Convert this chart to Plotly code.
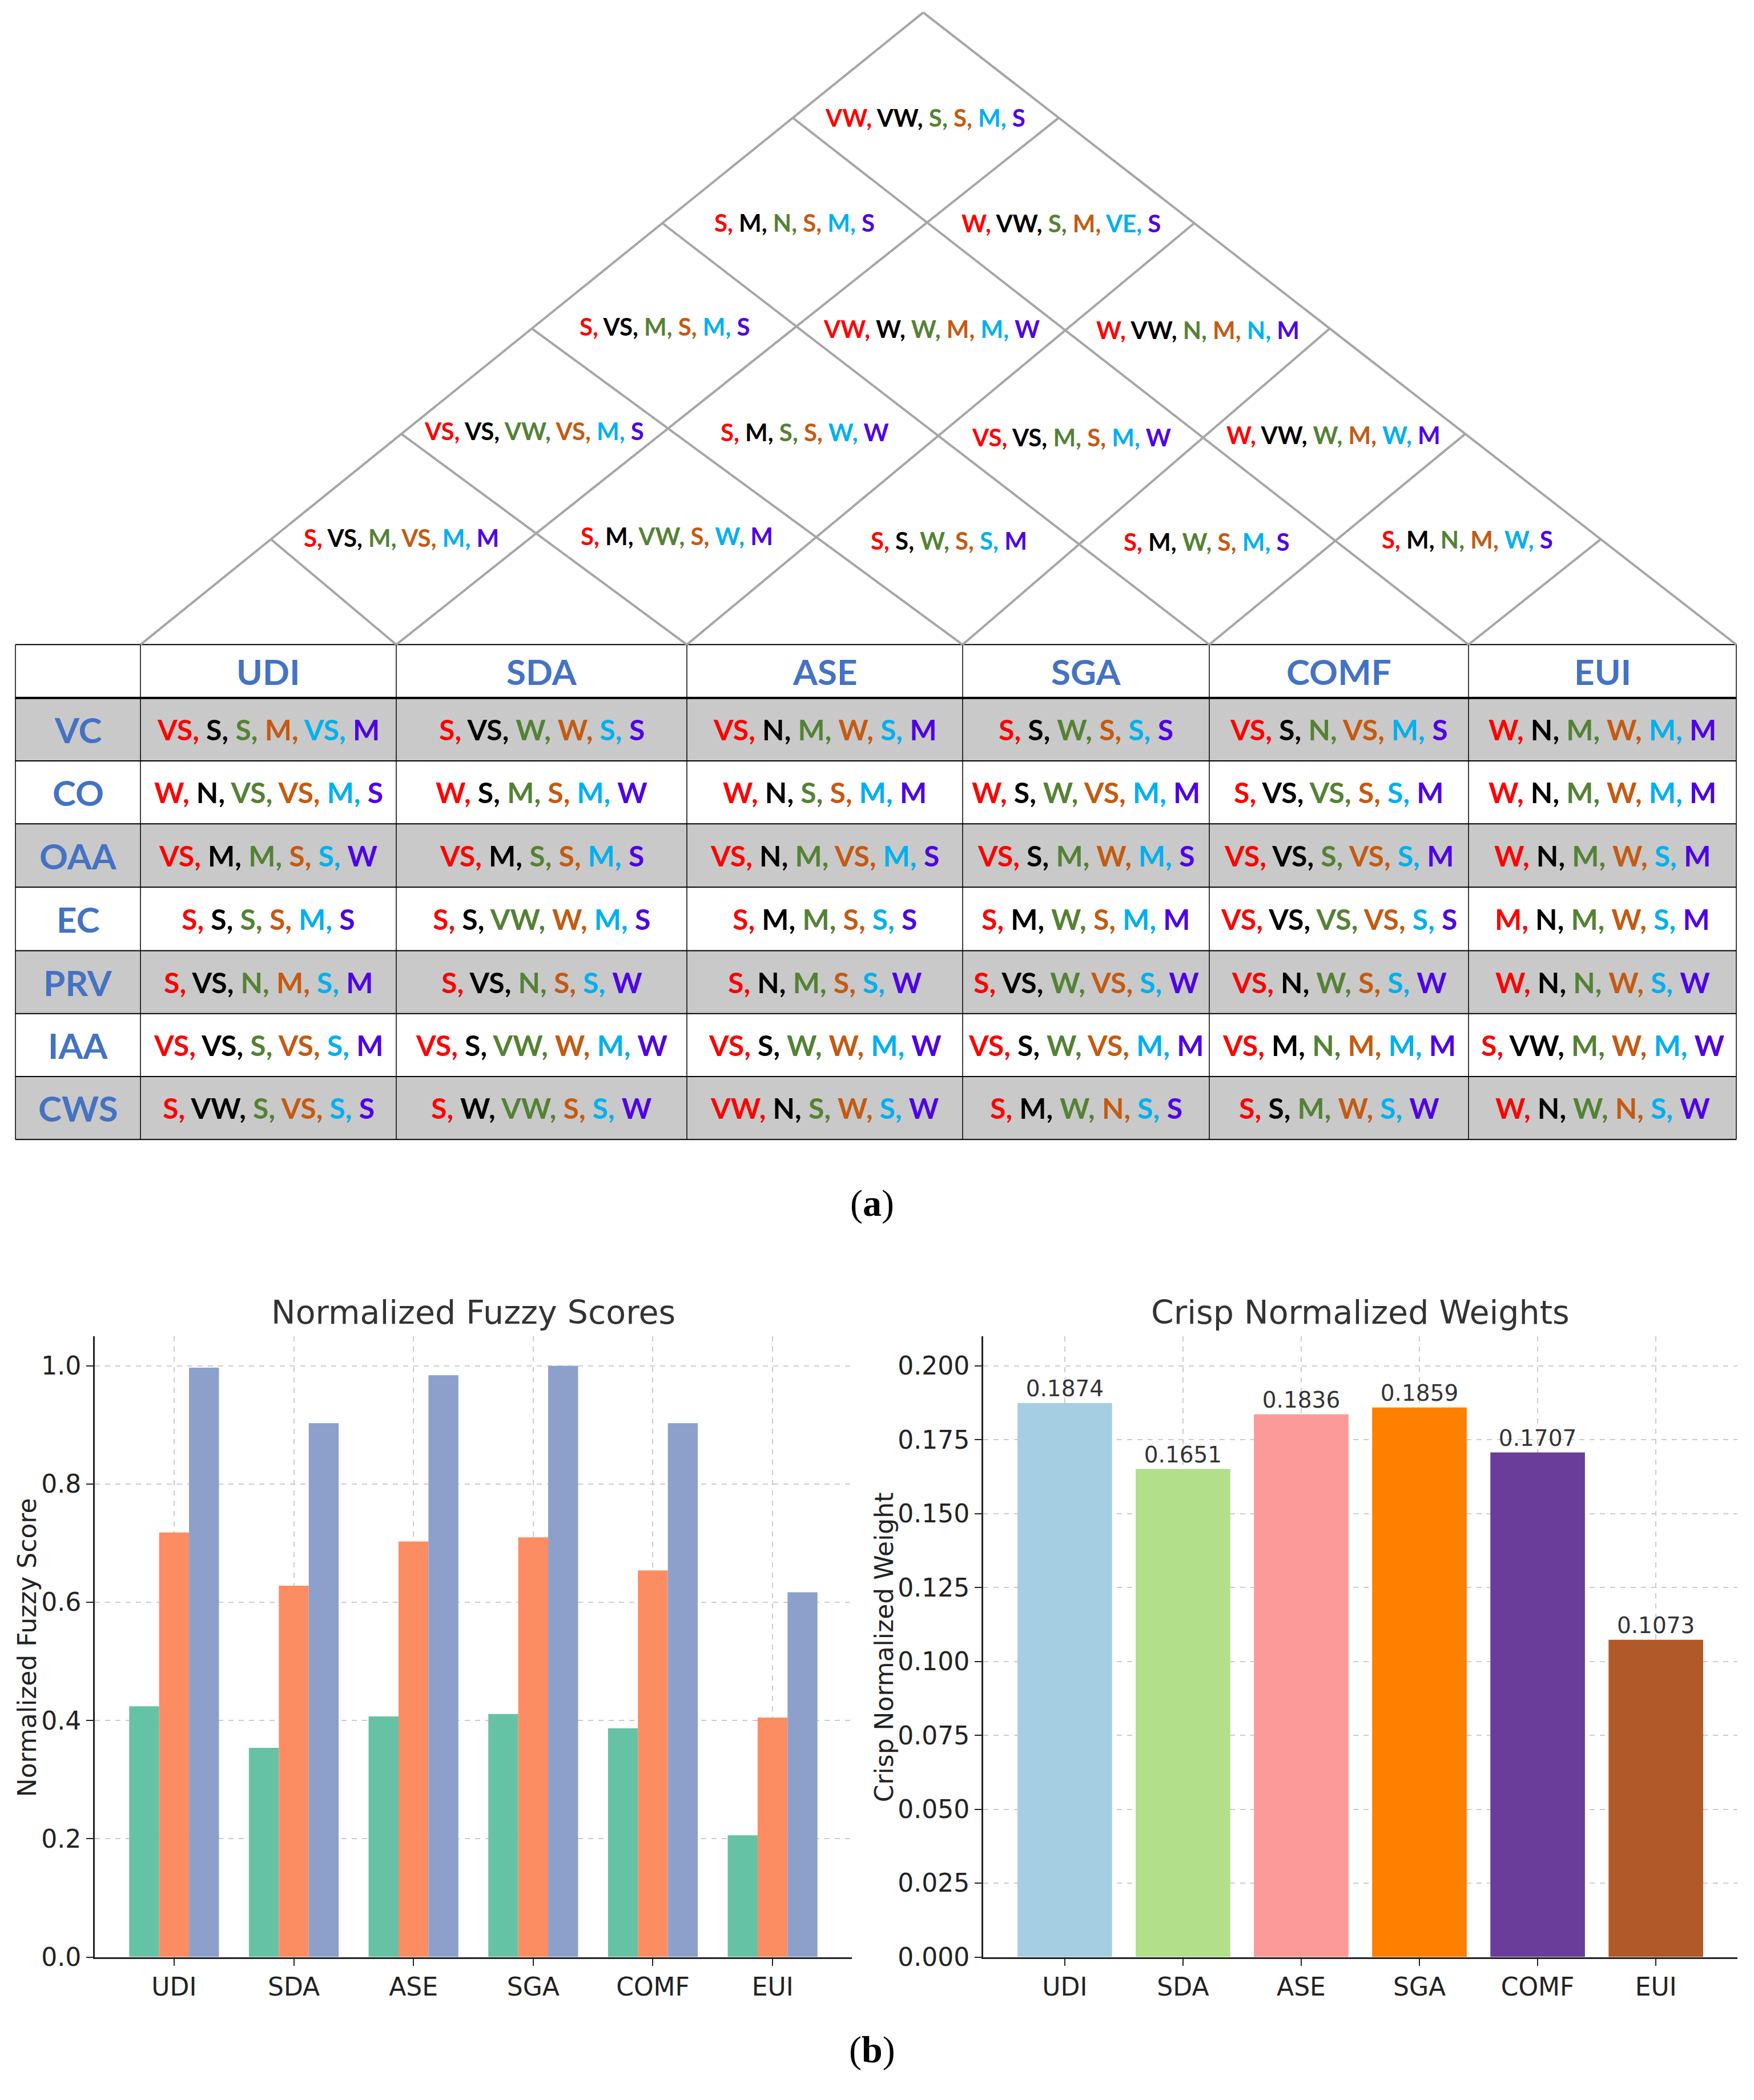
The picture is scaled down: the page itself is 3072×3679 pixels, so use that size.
import plotly.graph_objects as go

# ---------------- data ----------------
criteria = ["UDI", "SDA", "ASE", "SGA", "COMF", "EUI"]
row_labels = ["VC", "CO", "OAA", "EC", "PRV", "IAA", "CWS"]

table_VC = ["VS, S, S, M, VS, M", "S, VS, W, W, S, S", "VS, N, M, W, S, M", "S, S, W, S, S, S", "VS, S, N, VS, M, S", "W, N, M, W, M, M"]
table_CO = ["W, N, VS, VS, M, S", "W, S, M, S, M, W", "W, N, S, S, M, M", "W, S, W, VS, M, M", "S, VS, VS, S, S, M", "W, N, M, W, M, M"]
table_OAA = ["VS, M, M, S, S, W", "VS, M, S, S, M, S", "VS, N, M, VS, M, S", "VS, S, M, W, M, S", "VS, VS, S, VS, S, M", "W, N, M, W, S, M"]
table_EC = ["S, S, S, S, M, S", "S, S, VW, W, M, S", "S, M, M, S, S, S", "S, M, W, S, M, M", "VS, VS, VS, VS, S, S", "M, N, M, W, S, M"]
table_PRV = ["S, VS, N, M, S, M", "S, VS, N, S, S, W", "S, N, M, S, S, W", "S, VS, W, VS, S, W", "VS, N, W, S, S, W", "W, N, N, W, S, W"]
table_IAA = ["VS, VS, S, VS, S, M", "VS, S, VW, W, M, W", "VS, S, W, W, M, W", "VS, S, W, VS, M, M", "VS, M, N, M, M, M", "S, VW, M, W, M, W"]
table_CWS = ["S, VW, S, VS, S, S", "S, W, VW, S, S, W", "VW, N, S, W, S, W", "S, M, W, N, S, S", "S, S, M, W, S, W", "W, N, W, N, S, W"]
table_rows = [table_VC, table_CO, table_OAA, table_EC, table_PRV, table_IAA, table_CWS]

# roof (pairwise) cells, level d = column distance
roof_d1 = ["S, VS, M, VS, M, M", "S, M, VW, S, W, M", "S, S, W, S, S, M", "S, M, W, S, M, S", "S, M, N, M, W, S"]
roof_d2 = ["VS, VS, VW, VS, M, S", "S, M, S, S, W, W", "VS, VS, M, S, M, W", "W, VW, W, M, W, M"]
roof_d3 = ["S, VS, M, S, M, S", "VW, W, W, M, M, W", "W, VW, N, M, N, M"]
roof_d4 = ["S, M, N, S, M, S", "W, VW, S, M, VE, S"]
roof_d5 = ["VW, VW, S, S, M, S"]
roof_levels = [roof_d1, roof_d2, roof_d3, roof_d4, roof_d5]

fuzzy_low = [0.424, 0.354, 0.407, 0.411, 0.387, 0.206]
fuzzy_mid = [0.718, 0.628, 0.703, 0.710, 0.654, 0.405]
fuzzy_high = [0.997, 0.903, 0.984, 1.000, 0.903, 0.617]
crisp_weights = [0.1874, 0.1651, 0.1836, 0.1859, 0.1707, 0.1073]

# ---------------- style / layout constants ----------------
W, H = 3072, 3679
TOKEN_COLORS = ["#FF0000", "#000000", "#548235", "#C55A11", "#00B0F0", "#4F00E8"]
HEAD_BLUE = "#4472C4"
GRAY_FILL = "#C9C9C9"
ROOF_LINE = "#A6A6A6"
col_borders = [27, 246, 694, 1203, 1686, 2118, 2572, 3041]
row_borders = [1137, 1231, 1342, 1453, 1565, 1677, 1788, 1899, 2010]
apex = (1617, 22)


def px(x):
    return x / W


def py(y):
    return 1 - y / H


def colored(s):
    toks = [t.strip() for t in s.split(",")]
    parts = []
    for i, t in enumerate(toks):
        sep = "," if i < len(toks) - 1 else ""
        parts.append(f'<span style="color:{TOKEN_COLORS[i]}">{t}{sep}</span>')
    return " ".join(parts)


shapes = []
annotations = []

# ---- table background ----
for r in range(len(row_labels)):
    if r % 2 == 0:
        shapes.append(dict(type="rect", xref="paper", yref="paper",
                           x0=px(col_borders[0]), x1=px(col_borders[-1]),
                           y0=py(row_borders[r + 2]), y1=py(row_borders[r + 1]),
                           fillcolor=GRAY_FILL, line=dict(width=0), layer="below"))
# horizontal lines
for i, yb in enumerate(row_borders):
    shapes.append(dict(type="line", xref="paper", yref="paper",
                       x0=px(col_borders[0]), x1=px(col_borders[-1]), y0=py(yb), y1=py(yb),
                       line=dict(color="#000000", width=4 if i == 1 else 2)))
# vertical lines
for xb in col_borders:
    shapes.append(dict(type="line", xref="paper", yref="paper",
                       x0=px(xb), x1=px(xb), y0=py(row_borders[0]), y1=py(row_borders[-1]),
                       line=dict(color="#000000", width=1.5)))

# header & labels
col_centers = [(col_borders[i + 1] + col_borders[i + 2]) / 2 for i in range(len(criteria))]
lab_cx = (col_borders[0] + col_borders[1]) / 2
hdr_cy = (row_borders[0] + row_borders[1]) / 2
for c, name in zip(col_centers, criteria):
    annotations.append(dict(xref="paper", yref="paper", x=px(c), y=py(hdr_cy), text=name,
                            showarrow=False, xanchor="center", yanchor="middle",
                            font=dict(family="Lato", size=62, color=HEAD_BLUE, weight="bold")))
for r, (lab, vals) in enumerate(zip(row_labels, table_rows)):
    cy = (row_borders[r + 1] + row_borders[r + 2]) / 2
    annotations.append(dict(xref="paper", yref="paper", x=px(lab_cx), y=py(cy), text=lab,
                            showarrow=False, xanchor="center", yanchor="middle",
                            font=dict(family="Lato", size=62, color=HEAD_BLUE, weight="bold")))
    for c, v in zip(col_centers, vals):
        annotations.append(dict(xref="paper", yref="paper", x=px(c), y=py(cy), text=colored(v),
                                showarrow=False, xanchor="center", yanchor="middle",
                                font=dict(family="Lato", size=50, weight="bold")))

# ---- roof lattice ----
B = [(x, row_borders[0]) for x in col_borders[1:]]
n = len(criteria)


def lerp(p, q, t):
    return (p[0] + (q[0] - p[0]) * t, p[1] + (q[1] - p[1]) * t)


Lp = [lerp(B[0], apex, k / n) for k in range(n + 1)]
Rp = [lerp(B[n], apex, k / n) for k in range(n + 1)]
rg = {k: (B[k], Rp[n - k]) for k in range(n)}        # right-going lines
lg = {k: (B[k], Lp[k]) for k in range(1, n + 1)}     # left-going lines


def add_seg(p, q):
    shapes.append(dict(type="line", xref="paper", yref="paper",
                       x0=px(p[0]), y0=py(p[1]), x1=px(q[0]), y1=py(q[1]),
                       line=dict(color=ROOF_LINE, width=4)))


for k in range(n):
    add_seg(*rg[k])
for k in range(1, n + 1):
    add_seg(*lg[k])


def intersect(l1, l2):
    (x1, y1), (x2, y2) = l1
    (x3, y3), (x4, y4) = l2
    d = (x1 - x2) * (y3 - y4) - (y1 - y2) * (x3 - x4)
    a = x1 * y2 - y1 * x2
    b = x3 * y4 - y3 * x4
    return ((a * (x3 - x4) - (x1 - x2) * b) / d, (a * (y3 - y4) - (y1 - y2) * b) / d)


for d, level in enumerate(roof_levels, start=1):
    for a, txt in enumerate(level):
        b = a + d
        verts = [intersect(rg[a], lg[b + 1]), intersect(rg[a + 1], lg[b]),
                 intersect(rg[a], lg[b]), intersect(rg[a + 1], lg[b + 1])]
        cx = sum(v[0] for v in verts) / 4
        cy = sum(v[1] for v in verts) / 4
        annotations.append(dict(xref="paper", yref="paper", x=px(cx), y=py(cy), text=colored(txt),
                                showarrow=False, xanchor="center", yanchor="middle",
                                font=dict(family="Lato", size=42, weight="bold")))

# ---- sub-figure labels ----
annotations.append(dict(xref="paper", yref="paper", x=px(1527), y=py(2122), text="(<b>a</b>)",
                        showarrow=False, xanchor="center", yanchor="middle",
                        font=dict(family="Liberation Serif", size=66, color="#000000")))
annotations.append(dict(xref="paper", yref="paper", x=px(1527), y=py(3616), text="(<b>b</b>)",
                        showarrow=False, xanchor="center", yanchor="middle",
                        font=dict(family="Liberation Serif", size=66, color="#000000")))

# ---- bar charts ----
PLOT_TOP, PLOT_BOT = 2357, 3452
fig = go.Figure()
set2 = ["#66C2A5", "#FC8D62", "#8DA0CB"]
for vals, col, off in zip([fuzzy_low, fuzzy_mid, fuzzy_high], set2, [-0.375, -0.125, 0.125]):
    fig.add_trace(go.Bar(x=criteria, y=vals, marker=dict(color=col, line=dict(width=0)),
                         width=0.25, offset=off, xaxis="x", yaxis="y", showlegend=False,
                         hoverinfo="skip"))
paired = ["#A6CEE3", "#B2DF8A", "#FB9A99", "#FF7F00", "#6A3D9A", "#B15928"]
fig.add_trace(go.Bar(x=criteria, y=crisp_weights, marker=dict(color=paired, line=dict(width=0)),
                     width=0.8, offset=-0.4, xaxis="x2", yaxis="y2", showlegend=False,
                     text=[f"{v:.4f}" for v in crisp_weights], textposition="outside",
                     textfont=dict(family="DejaVu Sans", size=39, color="#333333"),
                     cliponaxis=False, hoverinfo="skip"))

tickfont = dict(family="DejaVu Sans", size=44, color="#222222")
common_ax = dict(showline=True, linecolor="#222222", linewidth=3, ticks="outside", ticklen=12,
                 tickwidth=2, tickcolor="#222222", showgrid=True, gridcolor="#CCCCCC",
                 griddash="dash", gridwidth=2, zeroline=False, tickfont=tickfont,
                 layer="above traces")
ydom = [py(PLOT_BOT), py(PLOT_TOP)]

fig.update_layout(
    width=W, height=H, margin=dict(l=0, r=0, t=0, b=0, pad=0),
    paper_bgcolor="white", plot_bgcolor="white",
    barmode="overlay",
    xaxis=dict(domain=[px(166), px(1492)], anchor="y", type="category",
               range=[-0.6625, 5.6625], **common_ax),
    yaxis=dict(domain=ydom, anchor="x", range=[0, 1.05], tickvals=[0, 0.2, 0.4, 0.6, 0.8, 1.0],
               tickformat=".1f", **common_ax),
    xaxis2=dict(domain=[px(1722), px(3043)], anchor="y2", type="category",
                range=[-0.69, 5.69], **common_ax),
    yaxis2=dict(domain=ydom, anchor="x2", range=[0, 0.21],
                tickvals=[0, 0.025, 0.05, 0.075, 0.1, 0.125, 0.15, 0.175, 0.2],
                tickformat=".3f", **common_ax),
    shapes=shapes,
)

# chart titles and axis titles
annotations.append(dict(xref="paper", yref="paper", x=px(829), y=py(2315), text="Normalized Fuzzy Scores",
                        showarrow=False, xanchor="center", yanchor="middle",
                        font=dict(family="DejaVu Sans", size=57, color="#333333")))
annotations.append(dict(xref="paper", yref="paper", x=px(2382), y=py(2315), text="Crisp Normalized Weights",
                        showarrow=False, xanchor="center", yanchor="middle",
                        font=dict(family="DejaVu Sans", size=57, color="#333333")))
annotations.append(dict(xref="paper", yref="paper", x=px(47), y=py(2906), text="Normalized Fuzzy Score",
                        showarrow=False, xanchor="center", yanchor="middle", textangle=-90,
                        font=dict(family="DejaVu Sans", size=44, color="#222222")))
annotations.append(dict(xref="paper", yref="paper", x=px(1548), y=py(2906), text="Crisp Normalized Weight",
                        showarrow=False, xanchor="center", yanchor="middle", textangle=-90,
                        font=dict(family="DejaVu Sans", size=44, color="#222222")))

fig.update_layout(annotations=annotations)
fig.write_html("out.html", config={"displayModeBar": False},
               post_script="document.body.style.margin='0';")
